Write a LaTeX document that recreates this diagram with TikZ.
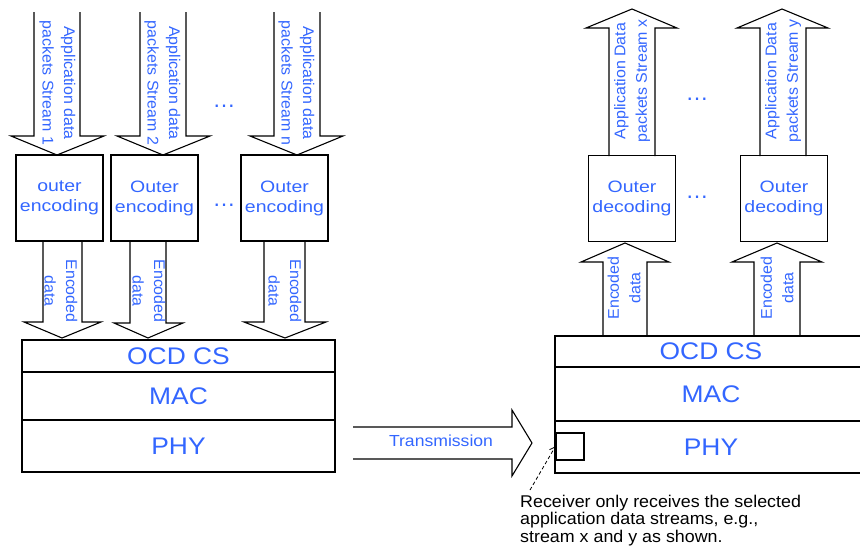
\documentclass[tikz,border=0pt]{standalone}
\usepackage{fontspec}
\setmainfont{Liberation Sans}
\newfontfamily\widefont{Liberation Sans}[FakeStretch=1.1]
\newfontfamily\widerfont{Liberation Sans}[FakeStretch=1.18]
\newfontfamily\recvfont{Liberation Sans}[FakeStretch=1.05]
\newfontfamily\lblfont{Liberation Sans}[FakeStretch=1.03]
\usetikzlibrary{arrows.meta}
\definecolor{txtblue}{RGB}{51,102,255}
% block arrow: xl, xr, ytail, ybase, headl, headr, xtip, ytip
\newcommand{\blockarr}[8]{\draw[blk] (#1,#3) -- (#1,#4) -- (#5,#4) -- (#7,#8) -- (#6,#4) -- (#2,#4) -- (#2,#3);}
\begin{document}
\begin{tikzpicture}[x=1pt,y=-1pt,
  blk/.style={draw=black, line width=1.1pt, line join=miter},
  box/.style={draw=black, line width=1.3pt, inner sep=0pt, align=center, text=txtblue,
    minimum width=87pt, minimum height=86pt, font=\widerfont\fontsize{16.5}{20}\selectfont},
  layer/.style={draw=black, line width=1.5pt, inner sep=0pt, text=txtblue,
    font=\widefont\fontsize{24}{28}\selectfont},
  lbl/.style={text=txtblue, align=center, inner sep=0pt, font=\lblfont\fontsize{15.5}{21.5}\selectfont},
  dotsnode/.style={text=txtblue, inner sep=0pt, anchor=base, font=\fontsize{23}{26}\selectfont},
  smallbox/.style={draw=black, line width=1.3pt, inner sep=0pt, minimum width=28pt, minimum height=27pt},
  recv/.style={text=black, align=left, inner sep=0pt, font=\recvfont\fontsize{17}{17.5}\selectfont},
]
\useasboundingbox (0,0) rectangle (860,546);
\begin{scope}
\clip (0,0) rectangle (860,546);

% ---------- left side ----------
\blockarr{34}{80}{12}{136}{11}{104}{57}{155}
\blockarr{140}{186}{12}{136}{117}{210}{163}{155}
\blockarr{274}{320}{12}{136}{250}{343}{297}{155}
\node[lbl, rotate=-90] (al1) at (57.5,83) {Application data\\packets Stream 1};
\node[lbl, rotate=-90] (al2) at (162.5,83) {Application data\\packets Stream 2};
\node[lbl, rotate=-90] (al3) at (296.5,83) {Application data\\packets Stream n};
\node[dotsnode] (ld1) at (224,107.5) {…};

\node[box] (enc1) at (59.5,198) {outer\\encoding};
\node[box] (enc2) at (154.5,198) {Outer\\encoding};
\node[box] (enc3) at (284.5,198) {Outer\\encoding};
\node[dotsnode] (ld2) at (224,206.5) {…};

\blockarr{43}{82}{241}{322}{24}{101}{62}{338}
\blockarr{130}{166}{241}{323}{114}{183}{148}{338}
\blockarr{264}{305}{241}{322}{244}{326}{285}{338}
\node[lbl, rotate=-90] (el1) at (61,291) {Encoded\\data};
\node[lbl, rotate=-90] (el2) at (149,291) {Encoded\\data};
\node[lbl, rotate=-90] (el3) at (285,291) {Encoded\\data};

\node[layer, minimum width=313pt, minimum height=32pt] (locd) at (178.5,356) {OCD CS};
\node[layer, minimum width=313pt, minimum height=48pt] (lmac) at (178.5,396) {MAC};
\node[layer, minimum width=313pt, minimum height=52pt] (lphy) at (178.5,446) {PHY};

% ---------- transmission ----------
\draw[blk] (353,427) -- (512,427) -- (512,410) -- (532,443) -- (512,476) -- (512,459) -- (353,459);
\node[text=txtblue, inner sep=0pt, font=\widefont\fontsize{16}{19}\selectfont] (tx) at (441,441) {Transmission};

% ---------- right side ----------
\blockarr{609}{655}{156}{28}{586}{677}{632}{9}
\blockarr{760}{806}{156}{28}{737}{828}{782}{9}
\node[lbl, rotate=90] (ar1) at (632,81) {Application Data\\packets Stream x};
\node[lbl, rotate=90] (ar2) at (783,81) {Application Data\\packets Stream y};
\node[dotsnode] (rd1) at (697,100.5) {…};

\node[box] (dec1) at (632,198.5) {Outer\\decoding};
\node[box] (dec2) at (784,198.5) {Outer\\decoding};
\node[dotsnode] (rd2) at (697,198) {…};

\blockarr{603}{647}{336}{262}{581}{669}{625}{243}
\blockarr{754}{800}{336}{262}{732}{822}{777}{243}
\node[lbl, rotate=90] (er1) at (624,288) {Encoded\\data};
\node[lbl, rotate=90] (er2) at (777,288) {Encoded\\data};

\node[layer, minimum width=312pt, minimum height=31pt] (rocd) at (711,351.5) {OCD CS};
\node[layer, minimum width=312pt, minimum height=54pt] (rmac) at (711,394) {MAC};
\node[layer, minimum width=312pt, minimum height=52pt] (rphy) at (711,447) {PHY};
\node[smallbox] (sel) at (570,446.5) {};

\node[recv, anchor=north west] (rtext) at (520,494.5) {Receiver only receives the selected\\application data streams, e.g.,\\stream x and y as shown.};
\coordinate (rstart) at (530,490);
\draw[black, line width=0.8pt, dash pattern=on 3.5pt off 2.5pt, -{Straight Barb[length=5pt,width=7pt]}] (rstart) -- (sel.west);
\end{scope}
\end{tikzpicture}
\end{document}
